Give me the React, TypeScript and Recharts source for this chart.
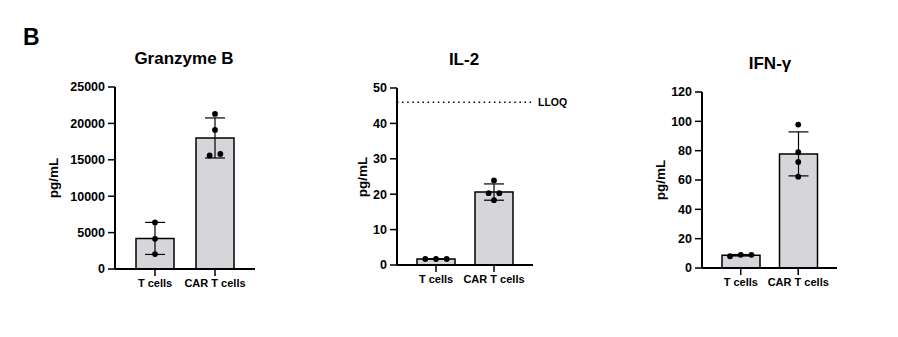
import { ComposedChart, Bar, ErrorBar, Scatter, XAxis, YAxis, ReferenceLine } from 'recharts';

const groups = ['T cells', 'CAR T cells'];

// Granzyme B (pg/mL)
const gzmbMean = [4200, 18000];
const gzmbSd = [2200, 2750];
const gzmbTcells = [6400, 4150, 2050];
const gzmbCar = [21300, 19100, 15600, 15800];
const gzmbTicks = [0, 5000, 10000, 15000, 20000, 25000];

// IL-2 (pg/mL)
const il2Mean = [1.7, 20.6];
const il2Sd = [0.05, 2.3];
const il2Tcells = [1.7, 1.7, 1.7];
const il2Car = [23.9, 20.3, 20.3, 18.3];
const il2Ticks = [0, 10, 20, 30, 40, 50];
const il2Lloq = 46;

// IFN-γ (pg/mL)
const ifngMean = [8.7, 77.8];
const ifngSd = [0.5, 15];
const ifngTcells = [8.0, 9.0, 9.0];
const ifngCar = [97.8, 79, 72.3, 62.3];
const ifngTicks = [0, 20, 40, 60, 80, 100, 120];

const FONT = '"Liberation Sans", Arial, Helvetica, sans-serif';
const DOT_SPREAD = 10.7;

// spread replicates that sit on top of each other, like a scatter-dot plot
function spreadPoints(group: string, values: number[], closeness: number) {
  const order = values.map((v, i) => i).sort((a, b) => values[a] - values[b]);
  const offsets = new Array(values.length).fill(0);
  let start = 0;
  for (let k = 1; k <= order.length; k++) {
    if (k === order.length || values[order[k]] - values[order[k - 1]] > closeness) {
      const n = k - start;
      for (let j = 0; j < n; j++) offsets[order[start + j]] = (j - (n - 1) / 2) * DOT_SPREAD;
      start = k;
    }
  }
  return values.map((v, i) => ({ group, value: v, jitter: offsets[i] }));
}

const Dot = (props: any) => {
  const { cx, cy, payload } = props;
  if (cx == null || cy == null) return null;
  return <circle cx={cx + (payload?.jitter ?? 0)} cy={cy} r={2.9} fill="#000" />;
};

interface PanelProps {
  left: number;
  width: number;
  top: number;
  bottom: number;
  axisWidth: number;
  right: number;
  mean: number[];
  sd: number[];
  tcells: number[];
  car: number[];
  ticks: number[];
  lloq?: number;
}

function Panel({ left, width, top, bottom, axisWidth, right, mean, sd, tcells, car, ticks, lloq }: PanelProps) {
  const max = ticks[ticks.length - 1];
  const rows = groups.map((g, i) => ({ group: g, mean: mean[i], sd: sd[i] }));
  const points = [
    ...spreadPoints(groups[0], tcells, max * 0.03),
    ...spreadPoints(groups[1], car, max * 0.03),
  ];
  return (
    <div style={{ position: 'absolute', left, top: 0 }}>
      <ComposedChart
        width={width}
        height={337}
        data={rows}
        margin={{ top, right, bottom, left: 0 }}
      >
        <XAxis
          dataKey="group"
          type="category"
          allowDuplicatedCategory={false}
          padding={{ left: 10, right: 10 }}
          height={30}
          tick={{ fill: '#000', fontSize: 11, fontWeight: 700, fontFamily: FONT }}
          tickSize={7}
          tickMargin={3}
          axisLine={{ stroke: '#000', strokeWidth: 2 }}
          tickLine={{ stroke: '#000', strokeWidth: 1.5 }}
        />
        <YAxis
          type="number"
          domain={[0, max]}
          ticks={ticks}
          interval={0}
          width={axisWidth}
          tick={{ fill: '#000', fontSize: 12.5, fontWeight: 700, fontFamily: FONT }}
          tickSize={7}
          tickMargin={3}
          axisLine={{ stroke: '#000', strokeWidth: 2 }}
          tickLine={{ stroke: '#000', strokeWidth: 1.5 }}
        />
        {lloq !== undefined && (
          <ReferenceLine
            y={lloq}
            stroke="#000"
            strokeWidth={1.5}
            strokeDasharray="1.5 3.6"
            label={{ value: 'LLOQ', position: 'right', offset: 5, fill: '#000', fontSize: 10.5, fontWeight: 700, fontFamily: FONT }}
          />
        )}
        <Bar dataKey="mean" barSize={38} fill="#d6d6da" stroke="#000" strokeWidth={1.5} isAnimationActive={false}>
          <ErrorBar dataKey="sd" direction="y" width={10} stroke="#000" strokeWidth={1.2} />
        </Bar>
        <Scatter data={points} dataKey="value" shape={<Dot />} isAnimationActive={false} />
      </ComposedChart>
    </div>
  );
}

export default function App() {
  const titleStyle = { fontFamily: FONT, fontWeight: 700, fill: '#000' } as const;
  return (
    <div style={{ position: 'absolute', left: 0, top: 0, width: 898, height: 337, background: '#fff', overflow: 'hidden' }}>
      <Panel left={0} width={300} top={87} bottom={38} axisWidth={115} right={45}
        mean={gzmbMean} sd={gzmbSd} tcells={gzmbTcells} car={gzmbCar} ticks={gzmbTicks} />
      <Panel left={300} width={300} top={88} bottom={42} axisWidth={97} right={67}
        mean={il2Mean} sd={il2Sd} tcells={il2Tcells} car={il2Car} ticks={il2Ticks} lloq={il2Lloq} />
      <Panel left={600} width={298} top={92} bottom={39} axisWidth={102} right={61}
        mean={ifngMean} sd={ifngSd} tcells={ifngTcells} car={ifngCar} ticks={ifngTicks} />
      <svg width={898} height={337} style={{ position: 'absolute', left: 0, top: 0, pointerEvents: 'none' }}>
        <text x={23} y={45} fontSize={23} {...titleStyle}>B</text>
        <text x={184} y={64} fontSize={17} textAnchor="middle" {...titleStyle}>Granzyme B</text>
        <text x={464} y={65} fontSize={17} textAnchor="middle" {...titleStyle}>IL-2</text>
        <text x={770} y={69} fontSize={17} textAnchor="middle" {...titleStyle}>IFN-γ</text>
        <text transform="translate(58,178) rotate(-90)" fontSize={13.5} textAnchor="middle" {...titleStyle}>pg/mL</text>
        <text transform="translate(367,177) rotate(-90)" fontSize={13.5} textAnchor="middle" {...titleStyle}>pg/mL</text>
        <text transform="translate(665,180) rotate(-90)" fontSize={13.5} textAnchor="middle" {...titleStyle}>pg/mL</text>
      </svg>
    </div>
  );
}
